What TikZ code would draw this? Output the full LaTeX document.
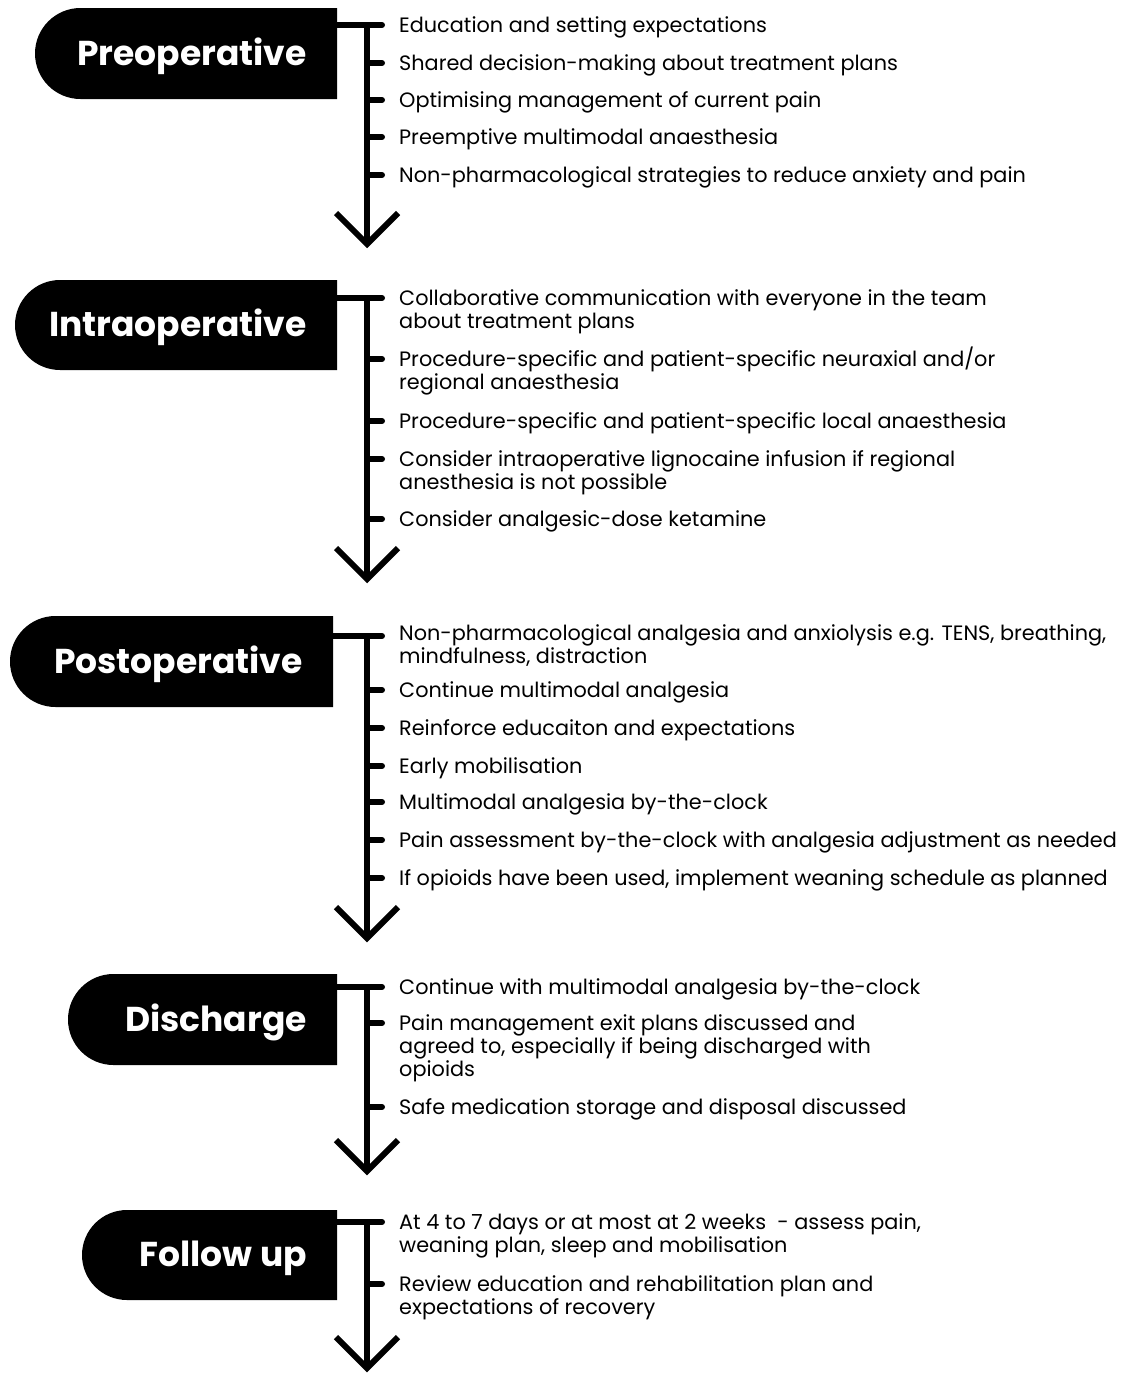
\documentclass[tikz,border=0pt]{standalone}
\usepackage{fontspec}
\setmainfont{Poppins}
\newfontfamily\headfont{Poppins}
\usetikzlibrary{shapes.misc}
\tikzset{
  phasebox/.style={rounded rectangle, rounded rectangle right arc=none, fill=black, draw=none, inner sep=0pt, outer sep=0pt},
  phasetext/.style={anchor=base east, text=white, inner sep=0pt, font=\headfont\bfseries\fontsize{34.5}{40}\selectfont},
  item/.style={anchor=base west, inner sep=0pt, font=\fontsize{20.8}{23}\selectfont},
  conn/.style={line width=6pt, line cap=round},
  spine/.style={line width=6pt, line cap=butt},
  chev/.style={line width=6pt, line join=miter, line cap=butt},
}
\newcommand{\two}[2]{\begin{tabular}[t]{@{}l@{}}#1\\#2\end{tabular}}
\newcommand{\three}[3]{\begin{tabular}[t]{@{}l@{}}#1\\#2\\#3\end{tabular}}
\begin{document}
\begin{tikzpicture}[x=1pt,y=-1pt]
\useasboundingbox (0,0) rectangle (1128,1373);

% ---------------- Section 1: Preoperative
\coordinate (s1top) at (367,25);
\coordinate (s1tip) at (367,244);
\draw[spine] (s1top) -- (s1tip);
\draw[chev] (336,213) -- (s1tip) -- (398,213);
\draw[conn] (337,25) -- (382,25);
\foreach \n/\yy in {a/63,b/100,c/137,d/175}{
  \coordinate (s1\n) at (367,\yy);
  \draw[conn] (s1\n) -- (382,\yy);
}
\node[phasebox, minimum width=302pt, minimum height=91pt] (b1) at (186,53.5) {};
\node[phasetext] (h1) at (307,65) {Preoperative};
\node[item] (i11) at (399,32.5) {Education and setting expectations};
\node[item] (i12) at (399,70.5) {Shared decision-making about treatment plans};
\node[item] (i13) at (399,107.5) {Optimising management of current pain};
\node[item] (i14) at (399,144.5) {Preemptive multimodal anaesthesia};
\node[item] (i15) at (399,182.5) {Non-pharmacological strategies to reduce anxiety and pain};

% ---------------- Section 2: Intraoperative
\coordinate (s2top) at (367,298);
\coordinate (s2tip) at (367,579);
\draw[spine] (s2top) -- (s2tip);
\draw[chev] (336,548) -- (s2tip) -- (398,548);
\draw[conn] (337,298) -- (382,298);
\foreach \n/\yy in {a/359,b/421,c/459,d/519}{
  \coordinate (s2\n) at (367,\yy);
  \draw[conn] (s2\n) -- (382,\yy);
}
\node[phasebox, minimum width=322pt, minimum height=90pt] (b2) at (176,325) {};
\node[phasetext] (h2) at (307,336.5) {Intraoperative};
\node[item] (i21) at (399,305.5) {\two{Collaborative communication with everyone in the team}{about treatment plans}};
\node[item] (i22) at (399,366.5) {\two{Procedure-specific and patient-specific neuraxial and/or}{regional anaesthesia}};
\node[item] (i23) at (399,428.5) {Procedure-specific and patient-specific local anaesthesia};
\node[item] (i24) at (399,466.5) {\two{Consider intraoperative lignocaine infusion if regional}{anesthesia is not possible}};
\node[item] (i25) at (399,526.5) {Consider analgesic-dose ketamine};

% ---------------- Section 3: Postoperative
\coordinate (s3top) at (367,636);
\coordinate (s3tip) at (367,938);
\draw[spine] (s3top) -- (s3tip);
\draw[chev] (336,907) -- (s3tip) -- (398,907);
\draw[conn] (333,636) -- (382,636);
\foreach \n/\yy in {a/690,b/728,c/766,d/802,e/840,f/878}{
  \coordinate (s3\n) at (367,\yy);
  \draw[conn] (s3\n) -- (382,\yy);
}
\node[phasebox, minimum width=323pt, minimum height=91pt] (b3) at (171.5,661.5) {};
\node[phasetext] (h3) at (303,673) {Postoperative};
\node[item] (i31) at (399,640.5) {\two{Non-pharmacological analgesia and anxiolysis e.g. TENS, breathing,}{mindfulness, distraction}};
\node[item] (i32) at (399,697.5) {Continue multimodal analgesia};
\node[item] (i33) at (399,735.5) {Reinforce educaiton and expectations};
\node[item] (i34) at (399,773.5) {Early mobilisation};
\node[item] (i35) at (399,809.5) {Multimodal analgesia by-the-clock};
\node[item] (i36) at (399,847.5) {Pain assessment by-the-clock with analgesia adjustment as needed};
\node[item] (i37) at (399,885.5) {If opioids have been used, implement weaning schedule as planned};

% ---------------- Section 4: Discharge
\coordinate (s4top) at (367,987);
\coordinate (s4tip) at (367,1171);
\draw[spine] (s4top) -- (s4tip);
\draw[chev] (336,1140) -- (s4tip) -- (398,1140);
\draw[conn] (337,987) -- (382,987);
\foreach \n/\yy in {a/1023,b/1107}{
  \coordinate (s4\n) at (367,\yy);
  \draw[conn] (s4\n) -- (382,\yy);
}
\node[phasebox, minimum width=269pt, minimum height=91pt] (b4) at (202.5,1019.5) {};
\node[phasetext] (h4) at (307,1031) {Discharge};
\node[item] (i41) at (399,994.5) {Continue with multimodal analgesia by-the-clock};
\node[item] (i42) at (399,1030.5) {\three{Pain management exit plans discussed and}{agreed to, especially if being discharged with}{opioids}};
\node[item] (i43) at (399,1114.5) {Safe medication storage and disposal discussed};

% ---------------- Section 5: Follow up
\coordinate (s5top) at (367,1222);
\coordinate (s5tip) at (367,1368);
\draw[spine] (s5top) -- (s5tip);
\draw[chev] (336,1337) -- (s5tip) -- (398,1337);
\draw[conn] (337,1222) -- (382,1222);
\foreach \n/\yy in {a/1284}{
  \coordinate (s5\n) at (367,\yy);
  \draw[conn] (s5\n) -- (382,\yy);
}
\node[phasebox, minimum width=255pt, minimum height=90pt] (b5) at (209.5,1255) {};
\node[phasetext] (h5) at (307,1266.5) {Follow up};
\node[item] (i51) at (399,1229.5) {\two{At 4 to 7 days or at most at 2 weeks\ \ - assess pain,}{weaning plan, sleep and mobilisation}};
\node[item] (i52) at (399,1291.5) {\two{Review education and rehabilitation plan and}{expectations of recovery}};
\end{tikzpicture}
\end{document}
